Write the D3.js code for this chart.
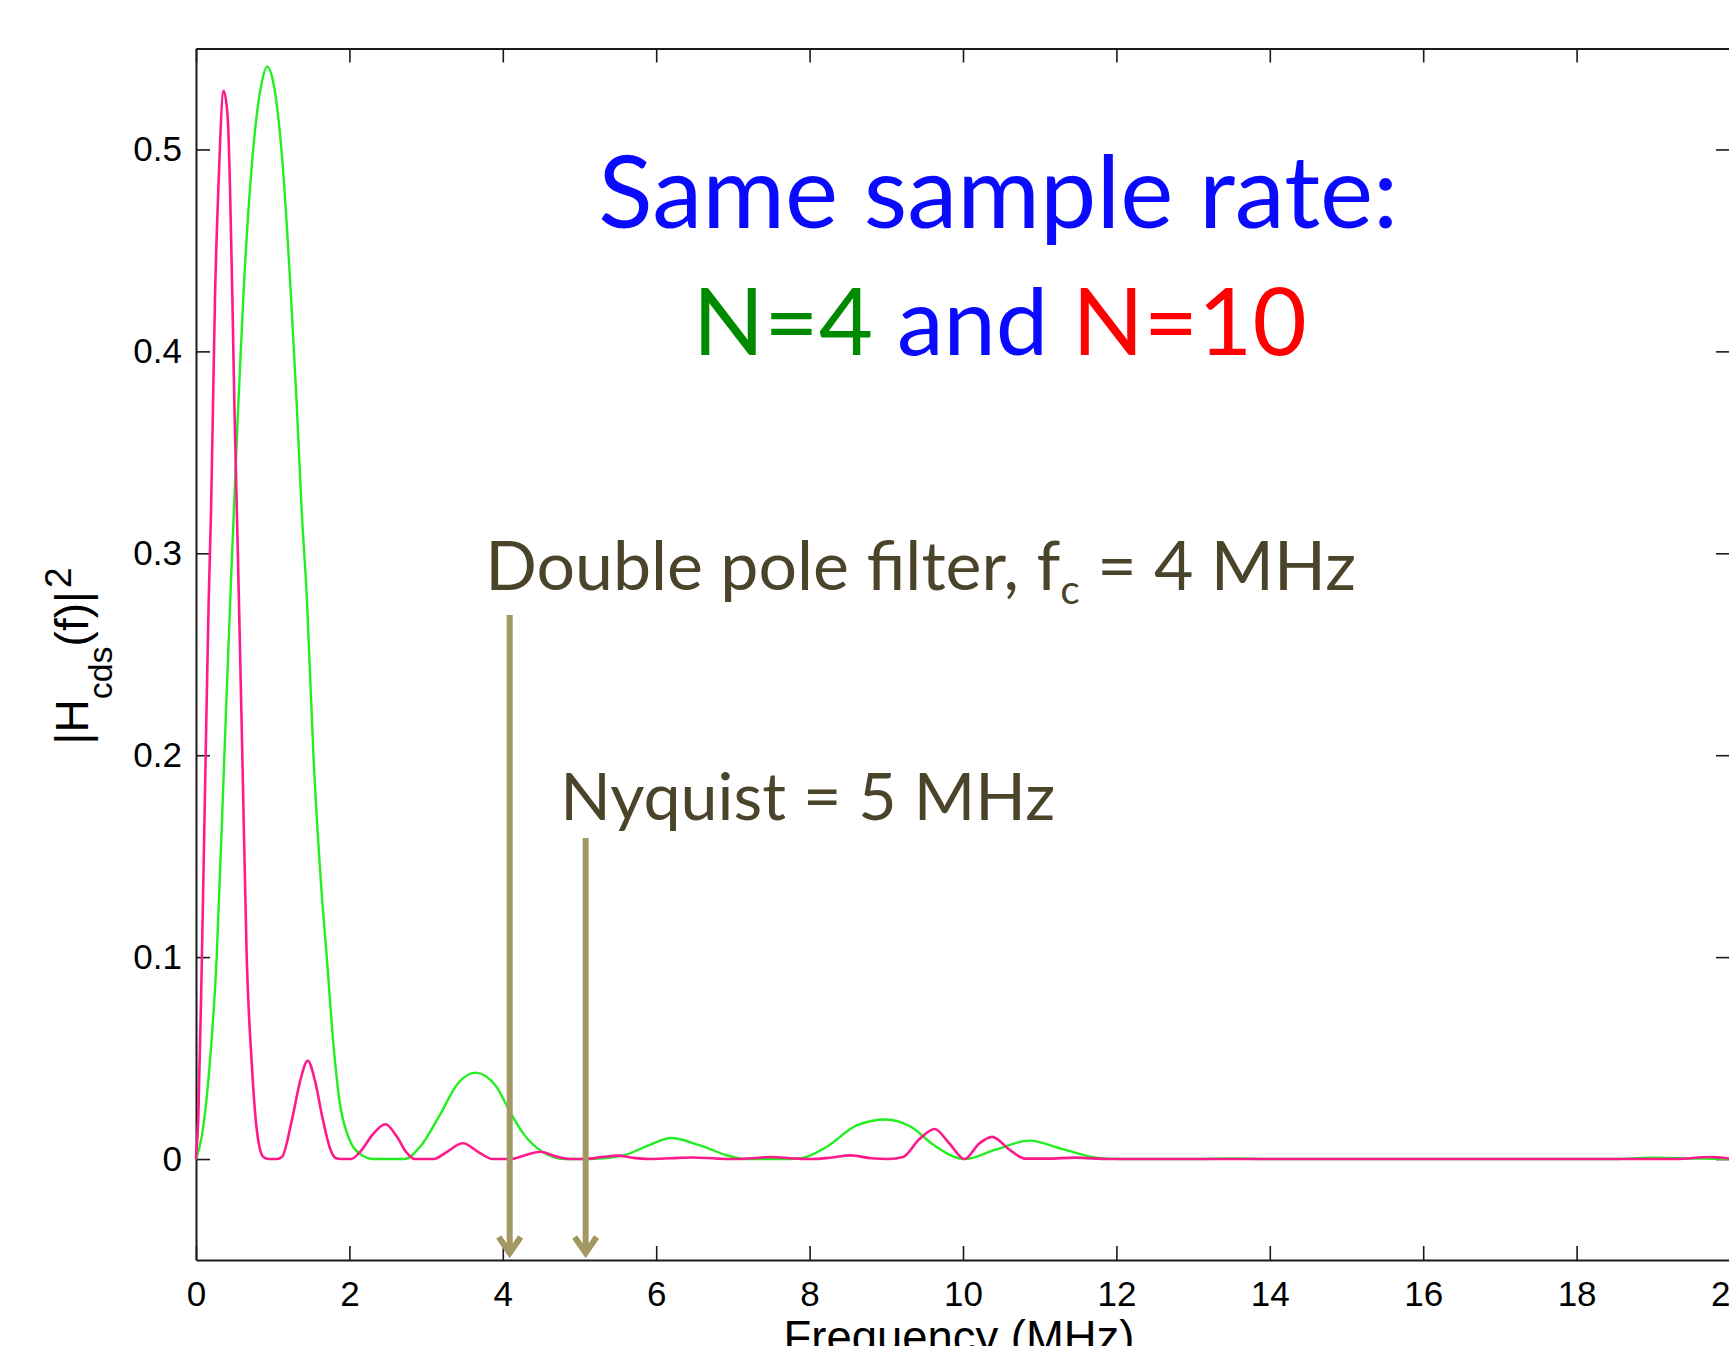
<!DOCTYPE html>
<html>
<head>
<meta charset="utf-8">
<script src="https://cdn.jsdelivr.net/npm/d3@7"></script>
<style>
  body { margin: 0; background: #fff; overflow: hidden; }
  svg { display: block; }
  text { white-space: pre; }
</style>
</head>
<body>
<div id="chart"></div>
<script>
const width = 1729;
const height = 1346;

// [frequency MHz, |Hcds(f)|^2]
const n4Points = [
  [0, 0], [0.074, 0.011], [0.161, 0.039], [0.27, 0.1], [0.37, 0.2], [0.46, 0.29],
  [0.552, 0.374], [0.617, 0.427], [0.748, 0.501], [0.857, 0.533], [0.926, 0.541],
  [1.009, 0.533], [1.118, 0.498], [1.239, 0.427], [1.313, 0.374], [1.378, 0.321],
  [1.444, 0.279], [1.531, 0.2], [1.64, 0.131], [1.705, 0.1], [1.79, 0.0575],
  [1.866, 0.03], [1.987, 0.011], [2.16, 0.002], [2.32, 0], [2.72, 0], [2.92, 0.006],
  [3.167, 0.021], [3.417, 0.0375], [3.641, 0.0428], [3.917, 0.0358], [4.08, 0.0243],
  [4.266, 0.0127], [4.515, 0.0036], [4.81, 0], [5.16, 0], [5.564, 0.0017],
  [5.91, 0.0069], [6.19, 0.0104], [6.56, 0.0069], [6.91, 0.002], [7.16, 0], [7.61, 0],
  [7.87, 0.0003], [8.22, 0.006], [8.62, 0.0168], [8.99, 0.0196], [9.32, 0.016],
  [9.62, 0.0069], [10.02, 0], [10.415, 0.0045], [10.86, 0.0091], [11.31, 0.0048],
  [11.71, 0.0008], [12.04, 0], [13.0, 0], [13.51, 0.0003], [14.0, 0], [18.5, 0],
  [18.97, 0.0007], [19.5, 0.0003], [20, 0]
];

const n10Points = [
  [0, 0], [0.03, 0.021], [0.074, 0.094], [0.126, 0.2], [0.165, 0.276], [0.196, 0.321],
  [0.222, 0.374], [0.248, 0.427], [0.291, 0.48], [0.361, 0.529], [0.413, 0.516],
  [0.444, 0.48], [0.474, 0.427], [0.5, 0.374], [0.544, 0.303], [0.56, 0.276],
  [0.604, 0.2], [0.661, 0.1], [0.726, 0.048], [0.791, 0.015], [0.878, 0.001],
  [0.95, 0], [1.05, 0], [1.12, 0.001], [1.257, 0.0206], [1.36, 0.039], [1.457, 0.0487],
  [1.55, 0.039], [1.648, 0.0206], [1.75, 0.005], [1.82, 0.0005], [1.9, 0], [2.02, 0],
  [2.15, 0.004], [2.3, 0.012], [2.47, 0.0172], [2.62, 0.011], [2.75, 0.003], [2.85, 0],
  [3.1, 0], [3.25, 0.003], [3.48, 0.0078], [3.7, 0.003], [3.87, 0], [4.1, 0],
  [4.3, 0.002], [4.49, 0.0036], [4.7, 0.0012], [4.87, 0], [5.06, 0], [5.3, 0.001],
  [5.5, 0.0017], [5.7, 0.0006], [5.91, 0], [6.2, 0.0004], [6.46, 0.0008], [6.8, 0.0002],
  [7.0, 0], [7.25, 0.0004], [7.49, 0.001], [7.8, 0.0003], [8.02, 0], [8.3, 0.0008],
  [8.53, 0.0018], [8.8, 0.0004], [9.02, 0], [9.22, 0.001], [9.42, 0.0094],
  [9.63, 0.0149], [9.82, 0.0078], [10.02, 0], [10.215, 0.0078], [10.38, 0.011],
  [10.61, 0.0045], [10.81, 0.0002], [11.1, 0.0002], [11.46, 0.0007], [11.91, 0],
  [19.3, 0], [19.73, 0.001], [20, 0.0002]
];

const xTicks = [0, 2, 4, 6, 8, 10, 12, 14, 16, 18, 20];
const yTicks = [0, 0.1, 0.2, 0.3, 0.4, 0.5];

// arrows: frequency, top value, tip value
const arrowFreq = [4.09, 5.08];
const arrowTop = [0.2694, 0.159];
const arrowTip = -0.0475;

const x = d3.scaleLinear().domain([0, 20]).range([196, 1730]);
const y = d3.scaleLinear().domain([-0.05, 0.55]).range([1260, 48.5]);

const svg = d3.select('#chart')
  .append('svg')
  .attr('width', width)
  .attr('height', height);

svg.append('rect').attr('width', width).attr('height', height).attr('fill', '#fff');

const axisFont = 'Liberation Sans, Arial, Helvetica, sans-serif';

function styleAxis(g) {
  g.attr('font-family', axisFont).attr('font-size', 35);
  g.select('.domain').attr('stroke', '#1a1a1a').attr('stroke-width', 2);
  g.selectAll('.tick line').attr('stroke', '#1a1a1a').attr('stroke-width', 1.6);
  g.selectAll('.tick text').attr('fill', '#000');
}

// bottom
svg.append('g')
  .attr('transform', `translate(0,${y(-0.05)})`)
  .call(d3.axisBottom(x).tickValues(xTicks).tickSizeInner(-14).tickSizeOuter(0)
    .tickPadding(21).tickFormat(d3.format('d')))
  .call(styleAxis);

// top
svg.append('g')
  .attr('transform', `translate(0,${y(0.55)})`)
  .call(d3.axisTop(x).tickValues(xTicks).tickSizeInner(-14).tickSizeOuter(0).tickFormat(''))
  .call(styleAxis);

// left
svg.append('g')
  .attr('transform', `translate(${x(0)},0)`)
  .call(d3.axisLeft(y).tickValues(yTicks).tickSizeInner(-14).tickSizeOuter(0)
    .tickPadding(14).tickFormat(d => d === 0 ? '0' : d3.format('.1f')(d)))
  .call(styleAxis);

// right
svg.append('g')
  .attr('transform', `translate(${x(20)},0)`)
  .call(d3.axisRight(y).tickValues(yTicks).tickSizeInner(-14).tickSizeOuter(0).tickFormat(''))
  .call(styleAxis);

// curves
const line = d3.line()
  .x(d => x(d[0]))
  .y(d => y(d[1]))
  .curve(d3.curveMonotoneX);

svg.append('path')
  .datum(n4Points)
  .attr('d', line)
  .attr('fill', 'none')
  .attr('stroke', '#22ee22')
  .attr('stroke-width', 2.4);

svg.append('path')
  .datum(n10Points)
  .attr('d', line)
  .attr('fill', 'none')
  .attr('stroke', '#ff1a8c')
  .attr('stroke-width', 2.6);

// axis labels
function fitWidth(sel, target) {
  const w = sel.node().getComputedTextLength();
  sel.attr('font-size', +sel.attr('font-size') * target / w);
}

const xLabel = svg.append('text')
  .attr('x', 959)
  .attr('y', 1353)
  .attr('text-anchor', 'middle')
  .attr('font-family', axisFont)
  .attr('font-size', 44)
  .attr('fill', '#000')
  .text('Frequency (MHz)');
fitWidth(xLabel, 351);

const yLabel = svg.append('text')
  .attr('transform', 'translate(88,656) rotate(-90)')
  .attr('text-anchor', 'middle')
  .attr('font-family', axisFont)
  .attr('font-size', 46)
  .attr('fill', '#000');
yLabel.append('tspan').text('|H');
yLabel.append('tspan').attr('font-size', 34).attr('dy', 24).text('cds');
yLabel.append('tspan').attr('dy', -24).text('(f)|');
yLabel.append('tspan').attr('font-size', 37).attr('dx', 3).attr('dy', -17).text('2');

// title
const titleFont = 'Lato, "Open Sans", sans-serif';

const title1 = svg.append('text')
  .attr('x', x(10.46))
  .attr('y', y(0.4612))
  .attr('text-anchor', 'middle')
  .attr('font-family', titleFont)
  .attr('font-size', 100)
  .attr('fill', '#0a0aff')
  .text('Same sample rate:');
fitWidth(title1, 800);

const title2 = svg.append('text')
  .attr('x', x(10.48))
  .attr('y', y(0.3982))
  .attr('text-anchor', 'middle')
  .attr('font-family', titleFont)
  .attr('font-size', 100);
title2.append('tspan').attr('fill', '#008a00').text('N=4');
title2.append('tspan').attr('fill', '#0a0aff').text(' and ');
title2.append('tspan').attr('fill', '#ff0000').text('N=10');
fitWidth(title2, 614);

// annotations
const noteColor = '#4a452a';

const note1 = svg.append('text')
  .attr('x', x(3.77))
  .attr('y', y(0.2818))
  .attr('font-family', titleFont)
  .attr('font-size', 70)
  .attr('fill', noteColor);
note1.append('tspan').text('Double pole filter, f');
note1.append('tspan').attr('font-size', '0.6em').attr('dy', '0.33em').text('c');
note1.append('tspan').attr('dy', '-0.2em').text(' = 4 MHz');
fitWidth(note1, 871);

const note2 = svg.append('text')
  .attr('x', x(4.75))
  .attr('y', y(0.168))
  .attr('font-family', titleFont)
  .attr('font-size', 70)
  .attr('fill', noteColor)
  .text('Nyquist = 5 MHz');
fitWidth(note2, 495);

// arrows
const arrowColor = '#a39763';
arrowFreq.forEach((f, i) => {
  const ax = x(f);
  const tipY = y(arrowTip);
  svg.append('line')
    .attr('x1', ax).attr('x2', ax)
    .attr('y1', y(arrowTop[i])).attr('y2', tipY - 3)
    .attr('stroke', arrowColor)
    .attr('stroke-width', 6);
  svg.append('polyline')
    .attr('points', [[ax - 11, tipY - 18], [ax, tipY - 2], [ax + 11, tipY - 18]].map(p => p.join(',')).join(' '))
    .attr('fill', 'none')
    .attr('stroke', arrowColor)
    .attr('stroke-width', 6)
    .attr('stroke-linejoin', 'miter');
});
</script>
</body>
</html>
